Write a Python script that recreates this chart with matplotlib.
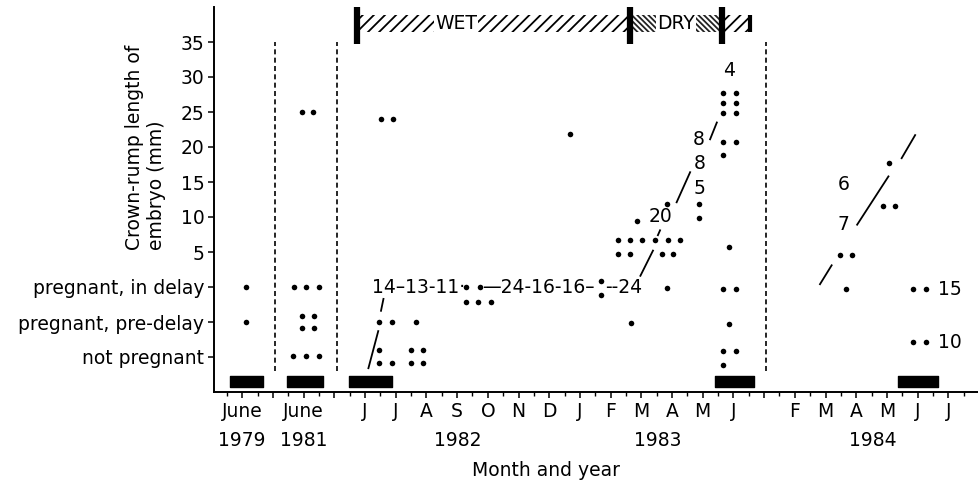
import numpy as np
import matplotlib
matplotlib.use("Agg")
import matplotlib.pyplot as plt
from matplotlib.patches import Rectangle

plt.rcParams['font.family'] = ['DejaVu Sans']
plt.rcParams['hatch.linewidth'] = 1.3
FS = 13.5

# x: months, June 1982 = 0 (axis is broken before 1982 and before 1984)
month_pos = [-4, -2, 0, 1, 2, 3, 4, 5, 6, 7, 8, 9, 10, 11, 12, 14, 15, 16, 17, 18, 19]
month_lab = ['June', 'June', 'J', 'J', 'A', 'S', 'O', 'N', 'D', 'J', 'F', 'M', 'A', 'M', 'J',
             'F', 'M', 'A', 'M', 'J', 'J']
year_pos = [-4, -2, 3.03, 9.54, 16.55]
year_lab = ['1979', '1981', '1982', '1983', '1984']

# y: mm for embryos, category rows below 0
ytick_pos = [35, 30, 25, 20, 15, 10, 5, 0, -5, -10]
ytick_lab = ['35', '30', '25', '20', '15', '10', '5',
             'pregnant, in delay', 'pregnant, pre-delay', 'not pregnant']

# individual animals
dot_x = [-3.89, -3.89,
         -2.30, -1.91, -1.51, -2.06, -1.65, -2.06, -1.65, -2.34, -1.92, -1.51, -2.06, -1.68,
         0.52, 0.92, 0.47, 0.87, 1.66, 0.47, 1.49, 1.88, 0.47, 0.87, 1.49, 1.88,
         3.29, 3.75, 3.29, 3.68, 4.09,
         6.68, 7.68, 7.68,
         8.25, 8.64, 9.03, 9.43, 9.86, 10.26, 8.25, 8.64, 9.66, 10.04,
         8.86, 9.85, 9.85, 8.66, 10.88, 10.88,
         11.67, 12.08, 11.67, 12.08, 11.67, 12.08, 11.67, 12.08, 11.67,
         11.87, 11.67, 12.08, 11.87, 11.67, 12.08, 11.67,
         17.08, 16.86, 17.27, 15.47, 15.85, 15.66, 17.86, 18.26, 17.86, 18.26]
dot_y = [0, -5,
         0, 0, 0, -4.1, -4.1, -5.9, -5.9, -9.8, -9.8, -9.8, 25.0, 25.0,
         24.0, 24.0, -5, -5, -5, -9.0, -9.0, -9.0, -10.9, -10.9, -10.9, -10.9,
         0, 0, -2.1, -2.1, -2.1,
         21.9, 0.9, -1.2,
         6.75, 6.75, 6.75, 6.75, 6.75, 6.75, 4.75, 4.75, 4.75, 4.75,
         9.5, 11.9, -0.1, -5.2, 11.9, 9.8,
         27.7, 27.7, 26.3, 26.3, 24.9, 24.9, 20.7, 20.7, 18.8,
         5.7, -0.3, -0.3, -5.3, -9.2, -9.2, -11.2,
         17.7, 11.6, 11.6, 4.6, 4.6, -0.3, -0.3, -0.3, -7.9, -7.9]

# sampling periods (black bars)
samp_start = [-4.40, -2.53, -0.51, 11.40, 17.36]
samp_end = [-3.33, -1.38, 0.89, 12.67, 18.66]

# growth lines
seg_x = [(0.11, 0.43), (0.52, 0.60), (8.97, 9.38), (9.54, 9.61), (10.15, 10.59), (11.24, 11.46),
         (14.82, 15.20), (16.03, 17.05), (17.48, 17.92)]
seg_y = [(-11.6, -6.3), (-3.4, -1.7), (1.6, 5.2), (7.4, 8.1), (12.1, 16.4), (21.1, 23.5),
         (0.4, 3.1), (8.9, 15.8), (18.4, 21.7)]

# sample sizes
n_lab = ['4', '8', '8', '5', '20', '6', '7', '15', '10']
n_x = [11.87, 10.86, 10.91, 10.91, 9.61, 15.58, 15.58, 19.05, 19.05]
n_y = [30.9, 21.1, 17.6, 14.1, 10.0, 14.7, 8.9, -0.4, -7.9]
chain_lab = ['14\u201313-11\u00b7', '\u201424-16-16\u2013', '--24']
chain_x = [0.22, 3.82, 7.82]

# seasons
wet1 = (-0.26, 8.63)
dry = (8.63, 11.63)
wet2 = (11.63, 12.54)
dividers = [-2.92, -0.92, 13.06]

fig = plt.figure(figsize=(9.79, 4.88), dpi=100)
ax = fig.add_axes([214 / 979, 1 - 392 / 488, 765 / 979, 385 / 488])
ax.set_xlim(-4.92, 20.0)
ax.set_ylim(-15, 40)

ax.plot(dot_x, dot_y, 'o', color='black', ms=4, mec='none')
ax.broken_barh([(s, e - s) for s, e in zip(samp_start, samp_end)], (-14.3, 1.6), color='black')
for xs, ys in zip(seg_x, seg_y):
    ax.plot(xs, ys, color='black', lw=1.3)
ax.vlines(dividers, -12, 35, colors='black', lw=1.2, linestyles=(0, (3, 2)))

for t, x, y in zip(n_lab, n_x, n_y):
    ax.text(x, y, t, fontsize=FS, ha='center', va='center')
for t, x in zip(chain_lab, chain_x):
    ax.text(x, -0.1, t, fontsize=FS, ha='left', va='center')

# wet / dry band
ax.add_patch(Rectangle((wet1[0], 36.4), wet1[1] - wet1[0], 2.4, fill=False,
                       hatch='///', edgecolor='black', lw=0))
ax.add_patch(Rectangle((dry[0], 36.4), dry[1] - dry[0], 2.4, fill=False,
                       hatch='\\\\\\\\\\\\', edgecolor='#222222', lw=0))
ax.add_patch(Rectangle((wet2[0], 36.4), wet2[1] - wet2[0], 2.4, fill=False,
                       hatch='///', edgecolor='black', lw=0))
ax.vlines([wet1[0], dry[0], dry[1]], 34.7, 40.1, colors='black', lw=4.5)
ax.vlines([wet2[1]], 36.4, 38.8, colors='black', lw=3)
ax.text(2.96, 37.6, 'WET', fontsize=FS, ha='center', va='center',
        bbox=dict(facecolor='white', edgecolor='none', pad=1))
ax.text(10.13, 37.6, 'DRY', fontsize=FS, ha='center', va='center',
        bbox=dict(facecolor='white', edgecolor='none', pad=1))

# axes
for s in ['top', 'right']:
    ax.spines[s].set_visible(False)
ax.spines['left'].set_linewidth(1.4)
ax.spines['bottom'].set_linewidth(1.4)
ax.spines['left'].set_bounds(-15, 40)

ax.set_yticks(ytick_pos)
ax.set_yticklabels(ytick_lab, fontsize=FS)
ax.set_xticks(np.arange(-4, 20))
ax.set_xticklabels([month_lab[month_pos.index(m)] if m in month_pos else ''
                    for m in range(-4, 20)], fontsize=FS)
ax.set_xticks(np.arange(-4.5, 20, 0.5), minor=True)
ax.tick_params(axis='both', which='major', direction='out', length=4, width=1.1, pad=3)
ax.tick_params(axis='x', which='minor', direction='out', length=3, width=1)

trans = ax.get_xaxis_transform()
for t, x in zip(year_lab, year_pos):
    ax.text(x, -0.125, t, fontsize=FS, ha='center', va='center', transform=trans)
ax.text(5.9, -0.203, 'Month and year', fontsize=FS, ha='center', va='center', transform=trans)

fig.text(145 / 979, 1 - 250 / 488, 'Crown-rump length of\nembryo (mm)', fontsize=FS,
         rotation=90, ha='center', va='bottom', multialignment='left')

fig.savefig('out.png', dpi=100)
